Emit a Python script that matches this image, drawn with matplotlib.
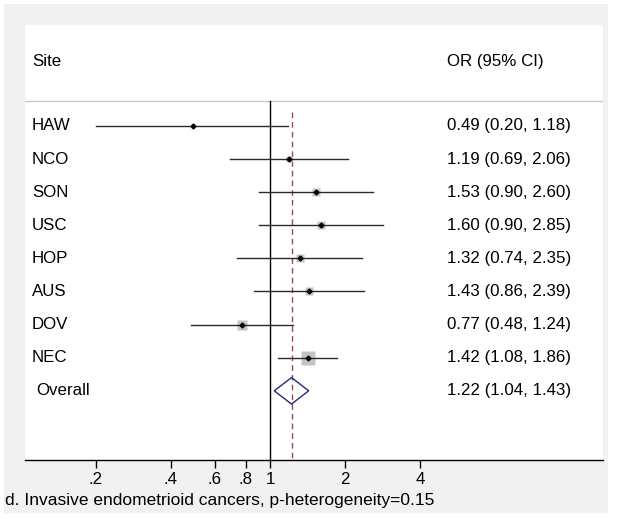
import numpy as np
import matplotlib
matplotlib.use("Agg")
from matplotlib import pyplot as plt
from matplotlib.patches import Rectangle, Polygon
from matplotlib.ticker import FixedLocator, FixedFormatter, NullLocator

plt.rcParams['font.family'] = ['Liberation Sans', 'DejaVu Sans']

# データ
sites = ["HAW", "NCO", "SON", "USC", "HOP", "AUS", "DOV", "NEC"]
or_est = [0.49, 1.19, 1.53, 1.60, 1.32, 1.43, 0.77, 1.42]
ci_lo = [0.20, 0.69, 0.90, 0.90, 0.74, 0.86, 0.48, 1.08]
ci_hi = [1.18, 2.06, 2.60, 2.85, 2.35, 2.39, 1.24, 1.86]
weights = [3.6, 6.5, 8.9, 8.9, 11.6, 11.6, 18.1, 30.7]  # % (box area)
overall = [1.22, 1.04, 1.43]
tick_vals = [0.2, 0.4, 0.6, 0.8, 1, 2, 4]
tick_labels = [".2", ".4", ".6", ".8", "1", "2", "4"]
caption = "d. Invasive endometrioid cancers, p-heterogeneity=0.15"

W, H = 624, 519
fig = plt.figure(figsize=(W / 100, H / 100), dpi=100, facecolor="white")
fig.patches.append(Rectangle((4 / W, 6 / H), 604 / W, 509 / H, transform=fig.transFigure,
                             facecolor="#f1f1f1", edgecolor="none", zorder=-5))

ax = fig.add_axes([25 / W, 1 - 460 / H, 578 / W, 435 / H])
ax.set_zorder(1)
ax.set_facecolor("white")
ax.set_xscale("log")
ax.set_xlim(10 ** ((25 - 270) / 249), 10 ** ((603 - 270) / 249))
ax.set_ylim(11.09, -2.05)

fs = 12.2
for s in ["top", "left", "right"]:
    ax.spines[s].set_visible(False)
ax.spines["bottom"].set_linewidth(1.0)
ax.xaxis.set_major_locator(FixedLocator(tick_vals))
ax.xaxis.set_major_formatter(FixedFormatter(tick_labels))
ax.xaxis.set_minor_locator(NullLocator())
ax.tick_params(axis="x", length=6, width=1, labelsize=fs, pad=3)
ax.set_yticks([])

tx = ax.get_yaxis_transform()  # x in axes, y in data
ax.text(0.012, -0.96, "Site", transform=tx, fontsize=fs, va="center")
ax.text(0.730, -0.96, "OR (95% CI)", transform=tx, fontsize=fs, va="center")
ax.axhline(0.245, color="#c8c8c8", lw=1.0)

ax.plot([1, 1], [0.245, 11.09], color="black", lw=1.0, zorder=2)
ax.plot([overall[0]] * 2, [0.58, 11.09], color="#9b4a55", lw=1.0, ls=(0, (4, 3)), zorder=2)

rows = np.arange(1, len(sites) + 1)
for y, name, est, lo, hi, w in zip(rows, sites, or_est, ci_lo, ci_hi, weights):
    side_px = 2.35 * np.sqrt(w)
    ax.plot(est, y, marker="s", ms=side_px * 0.72, color="#c4c4c4", mec="none", zorder=3)
    ax.plot([lo, hi], [y, y], color="#2a2a2a", lw=1.0, zorder=4)
    ax.plot(est, y, marker="D", ms=2.5, color="black", zorder=5)
    ax.text(0.012, y, name, transform=tx, fontsize=fs, va="center")
    ax.text(0.730, y, f"{est:.2f} ({lo:.2f}, {hi:.2f})", transform=tx, fontsize=fs, va="center")

yo = len(sites) + 1
est, lo, hi = overall
ax.add_patch(Polygon([[lo, yo], [est, yo - 0.4], [hi, yo], [est, yo + 0.4]], closed=True,
                     fill=False, edgecolor="#24287a", lw=1.0, zorder=4))
ax.text(0.02, yo, "Overall", transform=tx, fontsize=fs, va="center")
ax.text(0.730, yo, f"{est:.2f} ({lo:.2f}, {hi:.2f})", transform=tx, fontsize=fs, va="center")

fig.text(5 / W, 1 - 501 / H, caption, fontsize=12.5, va="center", ha="left")

plt.savefig("out.png", dpi=100, facecolor=fig.get_facecolor())
